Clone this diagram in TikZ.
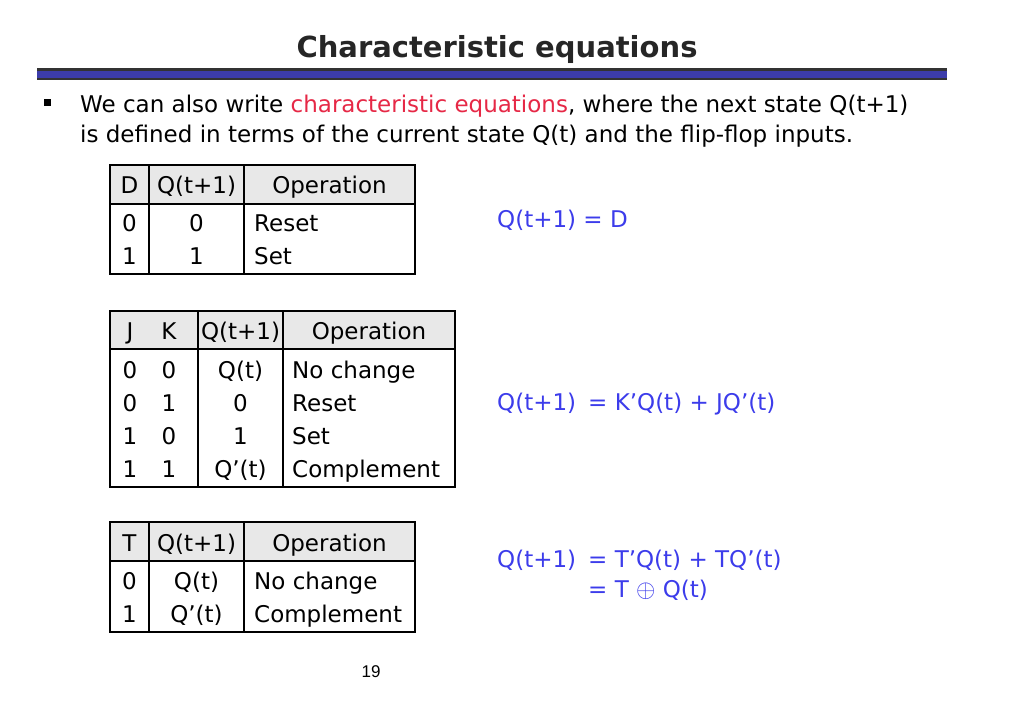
\documentclass[tikz,border=0pt]{standalone}
\usepackage{fontspec}
\setmainfont{DejaVu Sans}
\newfontfamily\arialf{Liberation Sans}
\begin{document}
\begin{tikzpicture}[x=1pt,y=-1pt,
  txt/.style={inner sep=0pt,anchor=base west,font=\fontsize{23}{27}\selectfont},
  ctxt/.style={inner sep=0pt,anchor=base,font=\fontsize{23}{27}\selectfont},
  eq/.style={inner sep=0pt,anchor=base west,text=eqblue,font=\fontsize{23}{27}\selectfont},
  tbl/.style={line width=2.5pt},
  sep/.style={line width=2pt}]
\definecolor{eqblue}{RGB}{60,60,235}
\definecolor{hred}{RGB}{230,40,70}
\definecolor{barblue}{RGB}{60,60,170}
\definecolor{hdr}{RGB}{232,232,232}
\useasboundingbox (0,0) rectangle (1024,717);
\fill[white] (0,0) rectangle (1024,717);
\node[inner sep=0pt,anchor=base,font=\bfseries\fontsize{29}{33}\selectfont,text=black!85] (title) at (497,57) {Characteristic equations};
\fill[black!80] (37,68) rectangle (947,80);
\fill[barblue] (37,70.5) rectangle (947,77.5);
\fill (44,99) rectangle (51,106) coordinate (bul);
\node[txt] (l1) at (80,112) {We can also write \textcolor{hred}{characteristic equations}, where the next state Q(t+1)};
\node[txt] (l2) at (80,142) {is defined in terms of the current state Q(t) and the flip-flop inputs.};
% table 1
\fill[hdr] (110,165) rectangle (415,204);
\draw[sep] (110,204) -- (415,204) (149,165) -- (149,274) (244,165) -- (244,274);
\draw[tbl] (110,165) rectangle (415,274);
\node[ctxt] (a1) at (129.5,193) {D};
\node[ctxt] (a2) at (196.5,193) {Q(t+1)};
\node[ctxt] (a3) at (329.5,193) {Operation};
\node[ctxt] (a4) at (129.5,231) {0};
\node[ctxt] (a5) at (196.5,231) {0};
\node[txt] (a6) at (254,231) {Reset};
\node[ctxt] (a7) at (129.5,264) {1};
\node[ctxt] (a8) at (196.5,264) {1};
\node[txt] (a9) at (254,264) {Set};
% table 2
\fill[hdr] (110,311) rectangle (455,349);
\draw[sep] (110,349) -- (455,349) (198,311) -- (198,487) (283,311) -- (283,487);
\draw[tbl] (110,311) rectangle (455,487);
\node[ctxt] (b1) at (130,339) {J};
\node[ctxt] (b2) at (169,339) {K};
\node[ctxt] (b3) at (240.5,339) {Q(t+1)};
\node[ctxt] (b4) at (369,339) {Operation};
\foreach \j/\k/\q/\o/\y [count=\i] in {0/0/Q(t)/No change/378,0/1/0/Reset/411,1/0/1/Set/444,1/1/Q’(t)/Complement/477}{
  \node[ctxt] (bj\i) at (130,\y) {\j};
  \node[ctxt] (bk\i) at (169,\y) {\k};
  \node[ctxt] (bq\i) at (240.5,\y) {\q};
  \node[txt] (bo\i) at (292,\y) {\o};
}
% table 3
\fill[hdr] (110,522) rectangle (415,561);
\draw[sep] (110,561) -- (415,561) (149,522) -- (149,632) (244,522) -- (244,632);
\draw[tbl] (110,522) rectangle (415,632);
\node[ctxt] (c1) at (129.5,551) {T};
\node[ctxt] (c2) at (196.5,551) {Q(t+1)};
\node[ctxt] (c3) at (329.5,551) {Operation};
\node[ctxt] (c4) at (129.5,589) {0};
\node[ctxt] (c5) at (196.5,589) {Q(t)};
\node[txt] (c6) at (254,589) {No change};
\node[ctxt] (c7) at (129.5,622) {1};
\node[ctxt] (c8) at (196.5,622) {Q’(t)};
\node[txt] (c9) at (254,622) {Complement};
% equations
\node[eq] (e1) at (497,227) {Q(t+1) = D};
\node[eq] (e2) at (497,410) {Q(t+1)};
\node[eq] (e3) at (588,410) {= K’Q(t) + JQ’(t)};
\node[eq] (e4) at (497,567) {Q(t+1)};
\node[eq] (e5) at (588,567) {= T’Q(t) + TQ’(t)};
\node[eq] (e6) at (588,597) {= T $\oplus$ Q(t)};
\node[inner sep=0pt,anchor=base,font=\arialf\fontsize{17}{20}\selectfont] (pg) at (371,677) {19};
\end{tikzpicture}
\end{document}
